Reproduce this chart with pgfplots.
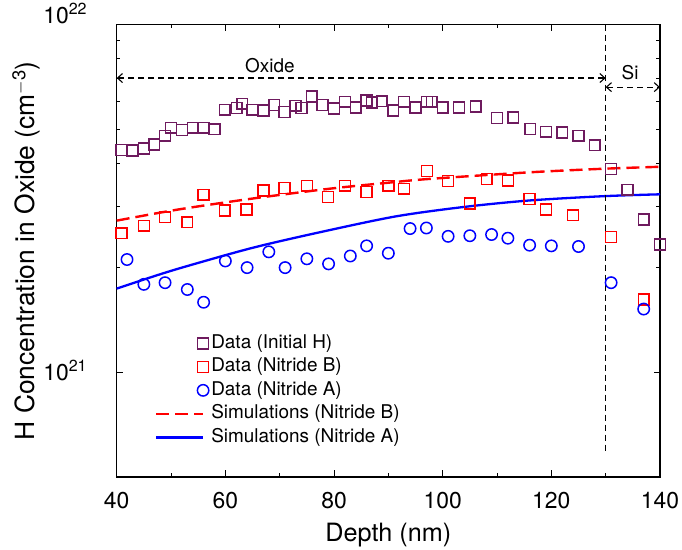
\documentclass[border=0pt]{standalone}
\usepackage{fontspec}
\setmainfont{TeX Gyre Heros}
\usepackage{pgfplots}
\pgfplotsset{compat=1.18}
\usetikzlibrary{arrows.meta}
\definecolor{dpurple}{RGB}{110,26,94}
\pgfplotsset{
  linelegend/.style={legend image code/.code={\draw[##1] (0bp,0bp) -- (46.7bp,0bp);}},
  marklegend/.style={legend image code/.code={\draw[##1] plot coordinates {(46.7bp,0bp)};}},
}
\begin{document}
\begin{tikzpicture}
\begin{axis}[
  scale only axis, width=543.3bp, height=452.3bp,
  xmin=40, xmax=140, ymin=5e20, ymax=1e22, ymode=log,
  clip=false,
  xtick={40,60,...,140}, minor xtick={50,70,...,130},
  ytick={1e21,1e22},
  yticklabels={10\textsuperscript{21},\raisebox{9.8bp}{10\textsuperscript{22}}},
  tick align=inside, major tick length=6.5bp, minor tick length=3.7bp,
  every tick/.style={black, line width=0.8bp},
  axis line style={black, line width=1.2bp},
  /pgf/number format/assume math mode=true,
  ticklabel style={font=\fontsize{23}{27}\selectfont, inner sep=0pt},
  xticklabel style={anchor=base, yshift=-31.3bp},
  yticklabel style={anchor=base east, xshift=-29.4bp, yshift=-8.4bp},
  xlabel={Depth (nm)},
  ylabel={H Concentration in Oxide (cm\textsuperscript{$-$3})},
  xlabel style={font=\fontsize{25.3}{30}\selectfont, at={(axis description cs:0.5,-0.143)}, anchor=base},
  ylabel style={font=\fontsize{26.5}{31}\selectfont, at={(axis description cs:-0.1517,0.5)}, anchor=base},
  legend style={draw=none, fill=none, inner sep=0pt, row sep=0pt,
    font=\fontsize{19}{22}\selectfont,
    at={(axis description cs:0.0705,0.3217)}, anchor=north west,
    nodes={inner sep=2.5bp, text height=14bp, text depth=4.5bp}},
  legend cell align=left,
]
\addplot[only marks, mark=square, mark size=5.4bp, mark options={dpurple, line width=1.5bp}, marklegend]
coordinates {
(40.9,4.36e21) (42.9,4.34e21) (45.0,4.40e21) (46.9,4.52e21) (48.9,4.79e21)
(50.0,5.05e21) (52.0,4.98e21) (54.0,5.05e21) (56.0,5.05e21) (58.0,5.00e21)
(59.9,5.69e21) (62.1,5.76e21) (63.1,5.92e21) (65.0,5.69e21) (67.0,5.66e21)
(69.0,5.87e21) (70.9,5.61e21) (72.9,5.84e21) (74.0,5.76e21) (75.9,6.21e21)
(77.9,5.87e21) (80.0,5.74e21) (82.0,6.00e21) (84.0,5.78e21) (86.0,6.05e21)
(87.0,5.97e21) (88.8,6.02e21) (90.9,5.66e21) (92.9,6.00e21) (95.0,5.78e21)
(97.1,6.00e21) (98.0,6.00e21) (100.0,5.78e21) (103.0,5.78e21) (106.1,5.81e21)
(110.0,5.39e21) (113.0,5.41e21) (116.1,5.01e21) (119.0,4.92e21) (122.0,4.89e21)
(125.0,4.79e21) (128.0,4.50e21) (131.0,3.84e21) (134.0,3.35e21) (137.0,2.75e21)
(140.0,2.33e21)
};
\addlegendentry{Data (Initial H)}
\addplot[only marks, mark=square, mark size=5.4bp, mark options={red, line width=1.5bp}, marklegend]
coordinates {
(40.9,2.51e21) (45.0,2.64e21) (48.9,2.79e21) (53.0,2.70e21) (56.0,3.24e21)
(59.9,2.92e21) (63.9,2.94e21) (67.0,3.33e21) (70.9,3.39e21) (75.0,3.44e21)
(78.9,3.19e21) (82.0,3.44e21) (86.0,3.30e21) (90.0,3.44e21) (92.9,3.37e21)
(97.1,3.79e21) (101.0,3.55e21) (105.0,3.06e21) (108.1,3.60e21) (112.0,3.56e21)
(116.0,3.15e21) (119.0,2.94e21) (124.0,2.83e21) (131.0,2.45e21) (137.0,1.62e21)
};
\addlegendentry{Data (Nitride B)}
\addplot[only marks, mark=o, mark size=5.7bp, mark options={blue, line width=1.5bp}, marklegend]
coordinates {
(41.9,2.11e21) (45.0,1.79e21) (48.9,1.81e21) (53.0,1.73e21) (56.0,1.59e21)
(60.0,2.09e21) (64.0,2.00e21) (68.0,2.22e21) (71.0,2.00e21) (75.0,2.12e21)
(79.0,2.05e21) (83.0,2.16e21) (86.0,2.31e21) (90.0,2.20e21) (94.0,2.59e21)
(97.0,2.60e21) (101.0,2.46e21) (105.0,2.47e21) (109.0,2.49e21) (112.0,2.43e21)
(116.0,2.32e21) (120.0,2.31e21) (125.0,2.30e21) (131.0,1.81e21) (137.0,1.52e21)
};
\addlegendentry{Data (Nitride A)}
\addplot[red, line width=2.4bp, dash pattern=on 13bp off 6bp, smooth, no marks, linelegend]
coordinates {
(40,2.73e21) (51.4,2.94e21) (65,3.16e21) (79,3.37e21) (90,3.51e21)
(97.7,3.60e21) (116,3.76e21) (129.6,3.85e21) (140,3.90e21)
};
\addlegendentry{Simulations (Nitride B)}
\addplot[blue, line width=2.3bp, smooth, no marks, linelegend]
coordinates {
(40,1.74e21) (46,1.87e21) (52,2.00e21) (65,2.28e21) (78,2.54e21)
(91.5,2.81e21) (104,2.99e21) (116,3.12e21) (129.6,3.21e21) (140,3.25e21)
};
\addlegendentry{Simulations (Nitride A)}
\draw[black, line width=1.1bp, dash pattern=on 6bp off 4bp] (axis cs:130,1e22) -- (axis cs:130,5.85e20);
\draw[black, line width=1.1bp, dash pattern=on 6bp off 4bp,
  arrows={Straight Barb[length=5bp,width=9bp]-Straight Barb[length=5bp,width=9bp]}]
  (axis cs:40,7.02e21) -- (axis cs:130,7.02e21);
\draw[black, line width=1.1bp, dash pattern=on 6bp off 4bp,
  arrows={Straight Barb[length=5bp,width=9bp]-Straight Barb[length=5bp,width=9bp]}]
  (axis cs:130,6.61e21) -- (axis cs:140,6.61e21);
\node[font=\fontsize{19}{22}\selectfont] at (axis cs:68.2,7.61e21) {Oxide};
\node[font=\fontsize{19}{22}\selectfont] at (axis cs:134.5,7.26e21) {Si};
\end{axis}
\pgfresetboundingbox
\path (-116.7bp,-73bp) rectangle (565.3bp,477bp);
\end{tikzpicture}
\end{document}
